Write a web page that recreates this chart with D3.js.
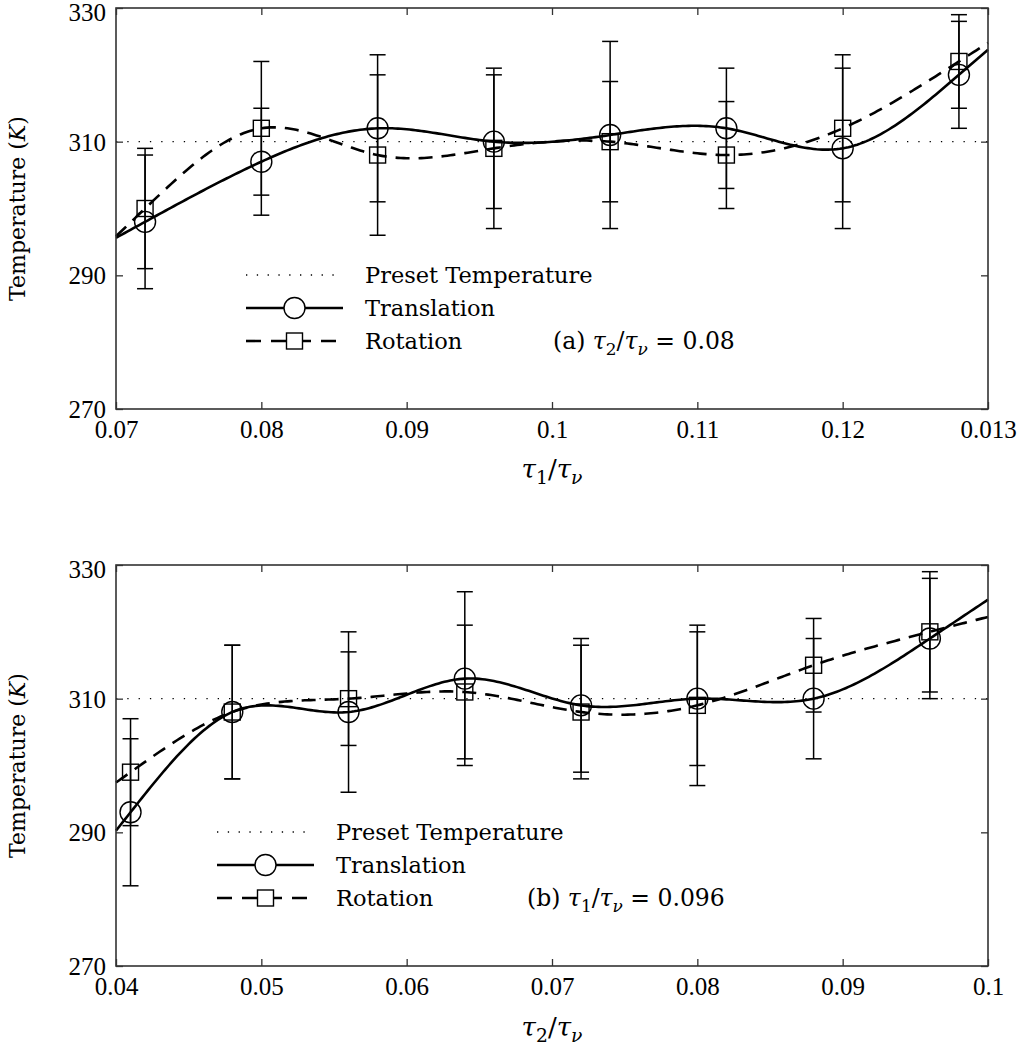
<!DOCTYPE html>
<html><head><meta charset="utf-8">
<script src="https://cdn.jsdelivr.net/npm/d3@7"></script>
<style>body{margin:0;background:#fff}svg{display:block}</style>
</head><body><svg id="c" width="1017" height="1050"></svg>
<script>
// ---------- data ----------
const presetTemperature = 310;
const yTicks = [270, 290, 310, 330];

// Panel (a): tau2/tau_nu = 0.08, x = tau1/tau_nu
const xTicksA = [0.07, 0.08, 0.09, 0.10, 0.11, 0.12, 0.13];
const xTickLabelsA = ["0.07", "0.08", "0.09", "0.1", "0.11", "0.12", "0.013"];
const tau1A = [0.072, 0.080, 0.088, 0.096, 0.104, 0.112, 0.120, 0.128];
const transA = [298, 307, 312, 310, 311, 312, 309, 320];
const transLoA = [288, 299, 301, 300, 297, 303, 297, 312];
const transHiA = [308, 315, 323, 320, 325, 321, 321, 328];
const rotA = [300, 312, 308, 309, 310, 308, 312, 322];
const rotLoA = [291, 302, 296, 297, 301, 300, 301, 315];
const rotHiA = [309, 322, 320, 321, 319, 316, 323, 329];

// Panel (b): tau1/tau_nu = 0.096, x = tau2/tau_nu
const xTicksB = [0.04, 0.05, 0.06, 0.07, 0.08, 0.09, 0.10];
const xTickLabelsB = ["0.04", "0.05", "0.06", "0.07", "0.08", "0.09", "0.1"];
const tau2B = [0.041, 0.048, 0.056, 0.064, 0.072, 0.080, 0.088, 0.096];
const transB = [293, 308, 308, 313, 309, 310, 310, 319];
const transLoB = [282, 298, 296, 300, 299, 300, 301, 310];
const transHiB = [304, 318, 320, 326, 319, 320, 319, 328];
const rotB = [299, 308, 310, 311, 308, 309, 315, 320];
const rotLoB = [291, 298, 303, 301, 298, 297, 308, 311];
const rotHiB = [307, 318, 317, 321, 318, 321, 322, 329];

const legendLabels = ["Preset Temperature", "Translation", "Rotation"];

// ---------- helpers ----------
// natural cubic spline through the data, linear beyond the end points
function splineFn(xs, ys) {
  const n = xs.length, h = [];
  for (let i = 0; i < n - 1; i++) h[i] = xs[i + 1] - xs[i];
  const A = Array.from({length: n}, () => new Array(n).fill(0));
  const b = new Array(n).fill(0);
  A[0][0] = 1; A[n - 1][n - 1] = 1;
  for (let i = 1; i < n - 1; i++) {
    A[i][i - 1] = h[i - 1]; A[i][i] = 2 * (h[i - 1] + h[i]); A[i][i + 1] = h[i];
    b[i] = 6 * ((ys[i + 1] - ys[i]) / h[i] - (ys[i] - ys[i - 1]) / h[i - 1]);
  }
  for (let c = 0; c < n; c++) {
    let p = c;
    for (let r = c + 1; r < n; r++) if (Math.abs(A[r][c]) > Math.abs(A[p][c])) p = r;
    [A[c], A[p]] = [A[p], A[c]]; [b[c], b[p]] = [b[p], b[c]];
    for (let r = c + 1; r < n; r++) {
      const f = A[r][c] / A[c][c];
      for (let k = c; k < n; k++) A[r][k] -= f * A[c][k];
      b[r] -= f * b[c];
    }
  }
  const M = new Array(n).fill(0);
  for (let r = n - 1; r >= 0; r--) {
    let s = b[r];
    for (let k = r + 1; k < n; k++) s -= A[r][k] * M[k];
    M[r] = s / A[r][r];
  }
  const d0 = (ys[1] - ys[0]) / h[0] - h[0] * (2 * M[0] + M[1]) / 6;
  const hn = h[n - 2];
  const dn = (ys[n - 1] - ys[n - 2]) / hn + hn * (M[n - 2] + 2 * M[n - 1]) / 6;
  return x => {
    if (x < xs[0]) return ys[0] + d0 * (x - xs[0]);
    if (x > xs[n - 1]) return ys[n - 1] + dn * (x - xs[n - 1]);
    let i = 0;
    while (i < n - 2 && x > xs[i + 1]) i++;
    const hh = h[i], a = xs[i + 1] - x, d = x - xs[i];
    return M[i] * a * a * a / (6 * hh) + M[i + 1] * d * d * d / (6 * hh)
      + (ys[i] / hh - M[i] * hh / 6) * a + (ys[i + 1] / hh - M[i + 1] * hh / 6) * d;
  };
}

const svg = d3.select("#c");
const FONT = "DejaVu Serif";
const NUMFONT = "Liberation Serif";
const L = 116, R = 988, H = 401;

function mathLabel(sel, parts, size) {
  let shifted = false;
  parts.forEach(([t, k]) => {
    const ts = sel.append("tspan").text(t);
    const isSub = k === "sub" || k === "subi";
    if (k === "i" || k === "subi") ts.attr("font-style", "italic");
    if (isSub) { ts.attr("font-size", size * 0.72); if (!shifted) { ts.attr("dy", size * 0.22); shifted = true; } }
    else if (shifted) { ts.attr("dy", -size * 0.22); shifted = false; }
  });
}

function panel(cfg) {
  const top = cfg.top, bottom = top + H;
  const x = d3.scaleLinear().domain([cfg.xTicks[0], cfg.xTicks[cfg.xTicks.length - 1]]).range([L, R]);
  const y = d3.scaleLinear().domain([270, 330]).range([bottom, top]);
  const g = svg.append("g");

  g.append("line").attr("x1", L).attr("x2", R).attr("y1", y(presetTemperature)).attr("y2", y(presetTemperature))
    .attr("stroke", "#000").attr("stroke-width", 1.3).attr("stroke-dasharray", "1.3,10");

  const drawErr = (lo, hi) => {
    cfg.xs.forEach((xv, i) => {
      const cx = x(xv);
      g.append("line").attr("x1", cx).attr("x2", cx).attr("y1", y(lo[i])).attr("y2", y(hi[i]))
        .attr("stroke", "#000").attr("stroke-width", 1.5);
      [lo[i], hi[i]].forEach(v => g.append("line").attr("x1", cx - 8).attr("x2", cx + 8)
        .attr("y1", y(v)).attr("y2", y(v)).attr("stroke", "#000").attr("stroke-width", 1.5));
    });
  };
  drawErr(cfg.tLo, cfg.tHi);
  drawErr(cfg.rLo, cfg.rHi);

  const dom = x.domain();
  const samples = d3.range(0, 301).map(k => dom[0] + (dom[1] - dom[0]) * k / 300);
  const line = d3.line().x(d => x(d[0])).y(d => y(d[1]));
  const sT = splineFn(cfg.xs, cfg.t), sR = splineFn(cfg.xs, cfg.r);
  g.append("path").attr("d", line(samples.map(v => [v, sT(v)]))).attr("fill", "none")
    .attr("stroke", "#000").attr("stroke-width", 2.6);
  g.append("path").attr("d", line(samples.map(v => [v, sR(v)]))).attr("fill", "none")
    .attr("stroke", "#000").attr("stroke-width", 2.6).attr("stroke-dasharray", "14,9");

  g.selectAll(null).data(cfg.xs).enter().append("circle")
    .attr("cx", d => x(d)).attr("cy", (d, i) => y(cfg.t[i])).attr("r", 10.5)
    .attr("fill", "none").attr("stroke", "#000").attr("stroke-width", 1.4);
  g.selectAll(null).data(cfg.xs).enter().append("rect")
    .attr("x", d => x(d) - 8).attr("y", (d, i) => y(cfg.r[i]) - 8).attr("width", 16).attr("height", 16)
    .attr("fill", "none").attr("stroke", "#000").attr("stroke-width", 1.4);

  g.append("rect").attr("x", L).attr("y", top).attr("width", R - L).attr("height", H)
    .attr("fill", "none").attr("stroke", "#333").attr("stroke-width", 1.6);

  const xb = d3.axisBottom(x).tickValues(cfg.xTicks).tickSizeInner(-7).tickSizeOuter(0)
    .tickFormat((d, i) => cfg.xLabels[i]);
  const ax = g.append("g").attr("transform", `translate(0,${bottom})`).call(xb);
  ax.select(".domain").remove();
  ax.selectAll("line").attr("stroke", "#333").attr("stroke-width", 1.3);
  ax.selectAll("text").attr("font-family", NUMFONT).attr("font-size", 25).attr("fill", "#000").attr("y", 11).attr("dy", "0.71em");
  const xt = g.append("g").attr("transform", `translate(0,${top})`)
    .call(d3.axisTop(x).tickValues(cfg.xTicks).tickSizeInner(-7).tickSizeOuter(0).tickFormat(""));
  xt.select(".domain").remove(); xt.selectAll("line").attr("stroke", "#333").attr("stroke-width", 1.3);

  const ay = g.append("g").attr("transform", `translate(${L},0)`)
    .call(d3.axisLeft(y).tickValues(yTicks).tickSizeInner(-7).tickSizeOuter(0).tickFormat(d3.format("d")));
  ay.select(".domain").remove();
  ay.selectAll("line").attr("stroke", "#333").attr("stroke-width", 1.3);
  ay.selectAll("text").attr("font-family", NUMFONT).attr("font-size", 25).attr("fill", "#000").attr("x", -10)
    .attr("dy", (d) => d === yTicks[yTicks.length - 1] ? "0.5em" : "0.34em");
  const ayr = g.append("g").attr("transform", `translate(${R},0)`)
    .call(d3.axisRight(y).tickValues(yTicks).tickSizeInner(-7).tickSizeOuter(0).tickFormat(""));
  ayr.select(".domain").remove(); ayr.selectAll("line").attr("stroke", "#333").attr("stroke-width", 1.3);

  const xt2 = g.append("text").attr("x", (L + R) / 2).attr("y", bottom + cfg.xTitleDy).attr("text-anchor", "middle")
    .attr("font-family", FONT).attr("font-size", 26);
  mathLabel(xt2, cfg.xTitle, 26);
  const yt = g.append("text").attr("transform", `translate(25,${(top + bottom) / 2}) rotate(-90)`)
    .attr("text-anchor", "middle").attr("font-family", FONT).attr("font-size", 22);
  mathLabel(yt, [["Temperature (", "r"], ["K", "i"], [")", "r"]], 22);

  const lx0 = cfg.legX, lx1 = cfg.legX + 97, mx = (lx0 + lx1) / 2, tx = cfg.legX + 119;
  const rows = cfg.legY;
  g.append("line").attr("x1", lx0).attr("x2", lx1).attr("y1", rows[0]).attr("y2", rows[0])
    .attr("stroke", "#000").attr("stroke-width", 1.3).attr("stroke-dasharray", "1.3,9.5");
  g.append("line").attr("x1", lx0).attr("x2", lx1).attr("y1", rows[1]).attr("y2", rows[1])
    .attr("stroke", "#000").attr("stroke-width", 2.6);
  g.append("circle").attr("cx", mx).attr("cy", rows[1]).attr("r", 10.5).attr("fill", "#fff").attr("stroke", "#000").attr("stroke-width", 1.4);
  g.append("line").attr("x1", lx0).attr("x2", lx1).attr("y1", rows[2]).attr("y2", rows[2])
    .attr("stroke", "#000").attr("stroke-width", 2.6).attr("stroke-dasharray", "15,10");
  g.append("rect").attr("x", mx - 8).attr("y", rows[2] - 8).attr("width", 16).attr("height", 16)
    .attr("fill", "#fff").attr("stroke", "#000").attr("stroke-width", 1.4);
  legendLabels.forEach((t, i) => g.append("text").attr("x", tx).attr("y", rows[i]).attr("dy", "0.36em")
    .attr("font-family", FONT).attr("font-size", 22.5).text(t));

  const an = g.append("text").attr("x", cfg.annX).attr("y", rows[2]).attr("dy", "0.36em")
    .attr("font-family", FONT).attr("font-size", 23.5);
  mathLabel(an, cfg.ann, 23.5);
}

panel({
  top: 8, xTicks: xTicksA, xLabels: xTickLabelsA, xs: tau1A,
  t: transA, tLo: transLoA, tHi: transHiA, r: rotA, rLo: rotLoA, rHi: rotHiA,
  xTitle: [["τ", "i"], ["1", "sub"], ["/", "r"], ["τ", "i"], ["ν", "subi"]], xTitleDy: 69,
  legX: 246, legY: [275, 308, 341], annX: 553,
  ann: [["(a) ", "r"], ["τ", "i"], ["2", "sub"], ["/", "r"], ["τ", "i"], ["ν", "subi"], [" = 0.08", "r"]]
});
panel({
  top: 565, xTicks: xTicksB, xLabels: xTickLabelsB, xs: tau2B,
  t: transB, tLo: transLoB, tHi: transHiB, r: rotB, rLo: rotLoB, rHi: rotHiB,
  xTitle: [["τ", "i"], ["2", "sub"], ["/", "r"], ["τ", "i"], ["ν", "subi"]], xTitleDy: 70,
  legX: 217, legY: [832, 865, 898], annX: 527,
  ann: [["(b) ", "r"], ["τ", "i"], ["1", "sub"], ["/", "r"], ["τ", "i"], ["ν", "subi"], [" = 0.096", "r"]]
});
</script></body></html>
